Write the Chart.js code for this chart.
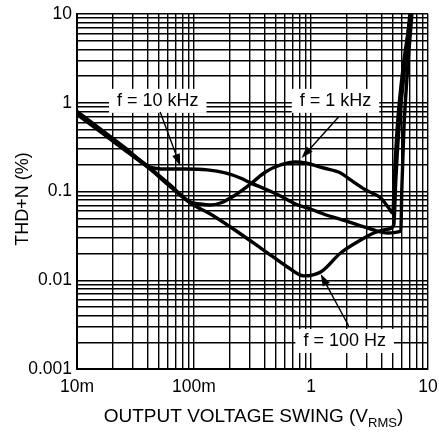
<!DOCTYPE html>
<html><head><meta charset="utf-8">
<script src="https://cdn.jsdelivr.net/npm/chart.js@4/dist/chart.umd.min.js"></script>
<style>html,body{margin:0;padding:0;background:#fff}canvas{display:block}</style>
</head><body>
<canvas id="c" width="439" height="432"></canvas>
<script>
// ---- tick labels ----
const xTickValues = [0.01, 0.1, 1, 10];
const xTickLabels = ['10m', '100m', '1', '10'];
const yTickValues = [0.001, 0.01, 0.1, 1, 10];
const yTickLabels = ['0.001', '0.01', '0.1', '1', '10'];

// ---- series (V RMS, THD+N %) ----
const vout100 = [0.010, 0.0157, 0.0258, 0.0422, 0.0627, 0.093, 0.138, 0.205, 0.393, 0.630, 0.864, 1.21, 1.79, 2.66, 3.44, 4.62, 5.10, 5.31, 5.63, 6.22, 7.0];
const thd100  = [0.74, 0.475, 0.29, 0.178, 0.113, 0.074, 0.0558, 0.0398, 0.0219, 0.0141, 0.0112, 0.0124, 0.0203, 0.0284, 0.0341, 0.0378, 0.042, 0.135, 0.493, 2.05, 10];

const vout1k = [0.010, 0.0157, 0.0258, 0.0422, 0.0627, 0.093, 0.113, 0.138, 0.168, 0.226, 0.304, 0.408, 0.549, 0.738, 0.899, 1.28, 1.79, 2.18, 2.94, 3.95, 4.62, 5.0, 5.20, 5.52, 6.09, 7.13];
const thd1k  = [0.77, 0.49, 0.30, 0.184, 0.118, 0.0762, 0.0723, 0.0705, 0.0742, 0.0914, 0.1215, 0.166, 0.199, 0.215, 0.2096, 0.184, 0.162, 0.135, 0.104, 0.0845, 0.0652, 0.0572, 0.175, 0.64, 2.34, 10];

const vout10k = [0.010, 0.0157, 0.0258, 0.0422, 0.0568, 0.0842, 0.130, 0.185, 0.249, 0.304, 0.425, 0.549, 0.738, 0.992, 1.28, 1.98, 3.24, 4.53, 5.86, 5.97, 6.22, 6.59, 7.28];
const thd10k  = [0.80, 0.51, 0.31, 0.188, 0.179, 0.179, 0.175, 0.162, 0.142, 0.125, 0.104, 0.089, 0.0723, 0.0635, 0.0558, 0.0466, 0.0378, 0.0341, 0.0359, 0.104, 0.493, 1.80, 10];

// ---- callouts (in data coordinates) ----
const callouts = [
  {text: 'f = 10 kHz', x: 0.049, y: 1.05, tailX: 0.0514, tailY: 0.787, headX: 0.0763, headY: 0.194},
  {text: 'f = 1 kHz',  x: 1.62,  y: 1.05, tailX: 1.72,   tailY: 0.69,  headX: 0.83,   headY: 0.238},
  {text: 'f = 100 Hz', x: 1.94,  y: 0.00207, tailX: 2.10, tailY: 0.00305, headX: 1.21, headY: 0.01176}
];

const FONT = '"Liberation Sans", Arial, Helvetica, sans-serif';

function logGrid(minExp, maxExp) {
  const v = [];
  for (let e = minExp; e < maxExp; e++) {
    for (let k = 1; k < 10; k++) v.push(+(k * Math.pow(10, e)).toPrecision(6));
  }
  v.push(Math.pow(10, maxExp));
  return v;
}
function labelFor(val, vals, labs) {
  for (let i = 0; i < vals.length; i++) {
    if (Math.abs(val - vals[i]) / vals[i] < 1e-6) return labs[i];
  }
  return '';
}
const mk = (xs, ys) => xs.map((x, i) => ({x: x, y: ys[i]}));

const lineStyle = {borderColor: '#000', backgroundColor: '#000', borderWidth: 3.4, pointRadius: 0, fill: false, cubicInterpolationMode: 'monotone'};

const calloutPlugin = {
  id: 'callouts',
  afterDatasetsDraw(chart) {
    const ctx = chart.ctx, xs = chart.scales.x, ys = chart.scales.y;
    ctx.save();
    ctx.font = '18px ' + FONT;
    callouts.forEach(c => {
      const cx = xs.getPixelForValue(c.x), cy = ys.getPixelForValue(c.y);
      const w = ctx.measureText(c.text).width;
      ctx.fillStyle = '#fff';
      ctx.fillRect(cx - w / 2 - 8, cy - 12, w + 16, 24);
      ctx.fillStyle = '#000';
      ctx.textAlign = 'center';
      ctx.textBaseline = 'middle';
      ctx.fillText(c.text, cx, cy);
      // arrow
      const tx = xs.getPixelForValue(c.tailX), ty = ys.getPixelForValue(c.tailY);
      const hx = xs.getPixelForValue(c.headX), hy = ys.getPixelForValue(c.headY);
      const ang = Math.atan2(hy - ty, hx - tx);
      const L = 12, H = 4;
      const bx = hx - L * Math.cos(ang), by = hy - L * Math.sin(ang);
      ctx.strokeStyle = '#000';
      ctx.lineWidth = 1.4;
      ctx.beginPath(); ctx.moveTo(tx, ty); ctx.lineTo(bx, by); ctx.stroke();
      ctx.beginPath();
      ctx.moveTo(hx, hy);
      ctx.lineTo(bx + H * Math.sin(ang), by - H * Math.cos(ang));
      ctx.lineTo(bx - H * Math.sin(ang), by + H * Math.cos(ang));
      ctx.closePath(); ctx.fill();
    });
    ctx.restore();
  },
  afterDraw(chart) {
    const ctx = chart.ctx, a = chart.chartArea;
    ctx.save();
    ctx.fillStyle = '#000';
    // y title
    ctx.font = '18px ' + FONT;
    ctx.translate(27.5, 199);
    ctx.rotate(-Math.PI / 2);
    ctx.textAlign = 'center';
    ctx.textBaseline = 'alphabetic';
    ctx.fillText('THD+N (%)', 0, 0);
    ctx.setTransform(1, 0, 0, 1, 0, 0);
    // x title with subscript
    const main = 'OUTPUT VOLTAGE SWING (V', sub = 'RMS', end = ')';
    const mainFont = '19px ' + FONT, subFont = '13px ' + FONT;
    ctx.font = mainFont; const w1 = ctx.measureText(main).width, w3 = ctx.measureText(end).width;
    ctx.font = subFont; const w2 = ctx.measureText(sub).width;
    const total = w1 + w2 + w3;
    let x0 = (a.left + a.right) / 2 - total / 2 + 1;
    const base = 422;
    ctx.textAlign = 'left';
    ctx.font = mainFont; ctx.fillText(main, x0, base);
    ctx.font = subFont; ctx.fillText(sub, x0 + w1, base + 5);
    ctx.font = mainFont; ctx.fillText(end, x0 + w1 + w2, base);
    ctx.restore();
  }
};

new Chart(document.getElementById('c'), {
  type: 'line',
  data: {
    datasets: [
      Object.assign({label: 'f = 100 Hz', data: mk(vout100, thd100)}, lineStyle),
      Object.assign({label: 'f = 1 kHz', data: mk(vout1k, thd1k)}, lineStyle),
      Object.assign({label: 'f = 10 kHz', data: mk(vout10k, thd10k)}, lineStyle)
    ]
  },
  options: {
    responsive: false,
    devicePixelRatio: 1,
    animation: false,
    layout: {padding: {top: 14, right: 11, left: 0, bottom: 0}},
    plugins: {legend: {display: false}, tooltip: {enabled: false}},
    scales: {
      x: {
        type: 'logarithmic', min: 0.01, max: 10,
        afterBuildTicks: s => { s.ticks = logGrid(-2, 1).map(v => ({value: v})); },
        afterFit: s => { s.height = 63; s.paddingLeft = 0; s.paddingRight = 0; },
        ticks: {autoSkip: false, maxRotation: 0, minRotation: 0, padding: 8, color: '#000',
                font: {family: FONT, size: 17.5},
                callback: v => labelFor(v, xTickValues, xTickLabels)},
        grid: {color: '#000', lineWidth: 1.4, drawTicks: false},
        border: {color: '#000', width: 2}
      },
      y: {
        type: 'logarithmic', min: 0.001, max: 10,
        afterBuildTicks: s => { s.ticks = logGrid(-3, 1).map(v => ({value: v})); },
        afterFit: s => { s.width = 77; s.paddingTop = 0; s.paddingBottom = 0; },
        ticks: {autoSkip: false, padding: 5, color: '#000',
                font: {family: FONT, size: 17.5},
                callback: v => labelFor(v, yTickValues, yTickLabels)},
        grid: {color: '#000', lineWidth: 1.4, drawTicks: false},
        border: {color: '#000', width: 2}
      }
    }
  },
  plugins: [calloutPlugin]
});
</script>
</body></html>
